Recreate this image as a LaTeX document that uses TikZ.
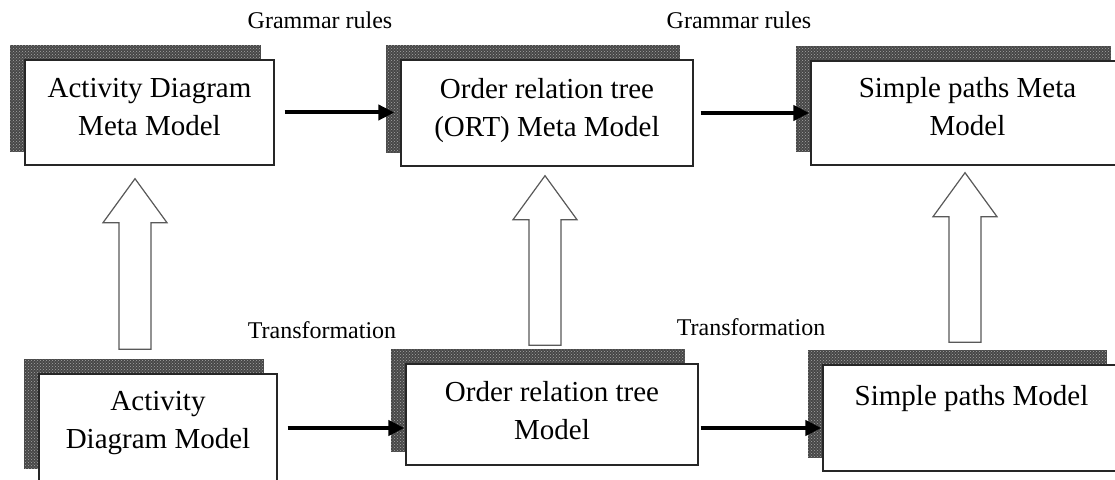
\documentclass[tikz,border=0pt]{standalone}
\usepackage{fontspec}
\setmainfont{Liberation Serif}
\usetikzlibrary{arrows.meta, calc, patterns, backgrounds}

\begin{document}
\begin{tikzpicture}[
    x=1pt, y=1pt,
    box/.style={rectangle, draw=black!85, line width=1.4pt, fill=white, align=center, inner sep=2pt, font=\fontsize{29}{38}\selectfont},
    metabox/.style={box, text depth=12pt},
    shadowfill/.style={preaction={fill=black!72}, pattern=crosshatch dots, pattern color=black!35},
    rulelabel/.style={font=\fontsize{24}{28}\selectfont},
    arrow/.style={-{Triangle[length=16pt,width=15pt]}, line width=4pt},
    blockarrow/.style={draw=black!65, line width=1.2pt, fill=white,
        to path={let \p1=(\tikztostart), \p2=(\tikztotarget) in
            (\x1-16pt,\y1) -- (\x1-16pt,\y2-44pt) -- (\x1-32pt,\y2-44pt) -- (\x1,\y2)
            -- (\x1+32pt,\y2-44pt) -- (\x1+16pt,\y2-44pt) -- (\x1+16pt,\y1) -- cycle}}
]
\useasboundingbox (0,0) rectangle (1115,479);

% Meta models
\node[metabox, minimum width=249pt, minimum height=105pt] (admm) at (149.5,366.5) {Activity Diagram\\Meta Model};
\node[metabox, minimum width=292pt, minimum height=106pt] (ortmm) at (547,366) {Order relation tree\\(ORT) Meta Model};
\node[metabox, minimum width=313pt, minimum height=104pt, text depth=14pt] (spmm) at (967.5,366) {Simple paths Meta\\Model};

% Models
\node[box, minimum width=238pt, minimum height=108pt, text depth=17pt] (adm) at (158,51) {Activity\\Diagram Model};
\node[box, minimum width=292pt, minimum height=101pt, text depth=8pt] (ortm) at (552,64.5) {Order relation tree\\Model};
\node[box, minimum width=297pt, minimum height=106pt, text depth=46pt] (spm) at (971.5,61) {Simple paths Model};

% Shadows
\begin{scope}[on background layer]
\fill[white] (0,0) rectangle (1115,479);
\foreach \n in {admm,ortmm,spmm,adm,ortm,spm}
    \fill[shadowfill] ([shift={(-14pt,14pt)}]\n.south west) rectangle ([shift={(-14pt,14pt)}]\n.north east);
\end{scope}

% Labels
\node[rulelabel] (gr1) at (320,459) {Grammar rules};
\node[rulelabel] (gr2) at (739,459) {Grammar rules};
\node[rulelabel] (tr1) at (322,149) {Transformation};
\node[rulelabel] (tr2) at (751,152) {Transformation};

% Arrows between models
\draw[arrow, shorten <=10pt, shorten >=6pt] (admm.east) -- (admm.east -| ortmm.west);
\draw[arrow, shorten <=7pt, shorten >=1pt] (ortmm.east) -- (ortmm.east -| spmm.west);
\draw[arrow, shorten <=10pt, shorten >=1pt] (adm.east) -- (adm.east -| ortm.west);
\draw[arrow, shorten <=2pt, shorten >=1pt] (ortm.east |- adm.east) -- (spm.west |- adm.east);

% Conformance arrows
\draw[blockarrow] ([shift={(-23pt,24pt)}]adm.north) to ([shift={(-14.5pt,-13pt)}]admm.south);
\draw[blockarrow] ([shift={(-7pt,18pt)}]ortm.north) to ([shift={(-2.5pt,-9pt)}]ortmm.south);
\draw[blockarrow] ([shift={(-6.5pt,22pt)}]spm.north) to ([shift={(-2.5pt,-7pt)}]spmm.south);

\end{tikzpicture}
\end{document}
